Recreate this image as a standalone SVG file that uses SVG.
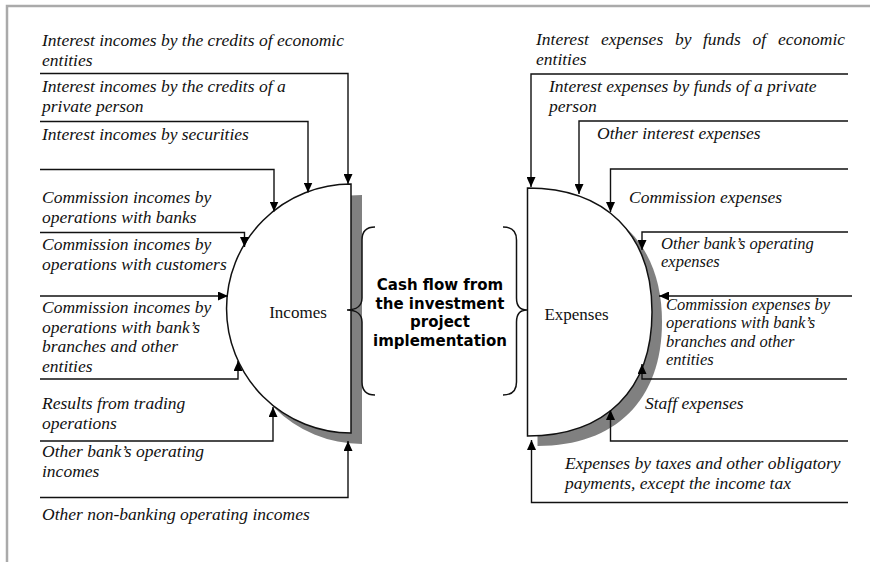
<svg xmlns="http://www.w3.org/2000/svg" width="870" height="562" viewBox="0 0 870 562">
<defs>
<style>
.lbl{font-family:"Liberation Serif","Times New Roman",serif;font-style:italic;font-size:17.5px;fill:#111}
.tight{font-size:16.5px}
.node{font-family:"Liberation Serif","Times New Roman",serif;font-size:17px;fill:#111;text-anchor:middle}
.ctr{font-family:"DejaVu Sans",Verdana,sans-serif;font-weight:bold;font-size:15px;fill:#000;text-anchor:middle}
.con{fill:none;stroke:#111;stroke-width:1.4;marker-end:url(#ah)}
.shape{fill:#fff;stroke:#111;stroke-width:1.5}
.shadow{fill:#808080}
.brace{fill:none;stroke:#111;stroke-width:1.5}
</style>
<marker id="ah" viewBox="0 0 10 9" refX="10" refY="4.5" markerWidth="10" markerHeight="9" orient="auto" markerUnits="userSpaceOnUse">
<path d="M0,0 L10,4.5 L0,9 z" fill="#000"/>
</marker>
</defs>
<rect width="870" height="562" fill="#fff"/>
<path d="M7,562 V6 H870" fill="none" stroke="#aaa" stroke-width="2.5"/>

<g id="incomes">
<path class="shadow" transform="translate(11,11)" d="M351,184 A124.5,124.5 0 0 0 351,433 Z"/>
<path class="shape" d="M351,184 A124.5,124.5 0 0 0 351,433 Z"/>
<text class="node" x="298" y="318">Incomes</text>
</g>

<g id="expenses">
<path class="shadow" transform="translate(10,10)" d="M527.5,188 C605.5,188 652,234 652,312 C652,390 605.5,436 527.5,436 Z"/>
<path class="shape" d="M527.5,188 C605.5,188 652,234 652,312 C652,390 605.5,436 527.5,436 Z"/>
<text class="node" x="576.5" y="320">Expenses</text>
</g>

<g id="cashflow">
<path class="brace" d="M375,227 C366,227 362,231 362,240 V298 C362,306 356,310 347,310 C356,310 362,314 362,322 V382 C362,391 366,395 375,395"/>
<path class="brace" d="M503,227 C512,227 516.5,231 516.5,240 V298 C516.5,306 520,310 527,310 C520,310 516.5,314 516.5,322 V382 C516.5,391 512,395 503,395"/>
<text class="ctr" x="440" y="289.5">Cash flow from</text>
<text class="ctr" x="440" y="308.5">the investment</text>
<text class="ctr" x="440" y="327">project</text>
<text class="ctr" x="440" y="346">implementation</text>
</g>

<g id="income-labels">
<text class="lbl" x="42" y="46">Interest incomes by the credits of economic</text>
<text class="lbl" x="42" y="65.5">entities</text>
<text class="lbl" x="42" y="92">Interest incomes by the credits of a</text>
<text class="lbl" x="42" y="111.5">private person</text>
<text class="lbl" x="42" y="139.5">Interest incomes by securities</text>
<text class="lbl" x="42" y="203">Commission incomes by</text>
<text class="lbl" x="42" y="222.5">operations with banks</text>
<text class="lbl" x="42" y="250">Commission incomes by</text>
<text class="lbl" x="42" y="269.5">operations with customers</text>
<text class="lbl" x="42" y="313">Commission incomes by</text>
<text class="lbl" x="42" y="332.5">operations with bank’s</text>
<text class="lbl" x="42" y="352">branches and other</text>
<text class="lbl" x="42" y="371.5">entities</text>
<text class="lbl" x="42" y="409">Results from trading</text>
<text class="lbl" x="42" y="428.5">operations</text>
<text class="lbl" x="42" y="457">Other bank’s operating</text>
<text class="lbl" x="42" y="476.5">incomes</text>
<text class="lbl" x="42" y="520">Other non-banking operating incomes</text>
</g>

<g id="expense-labels">
<text class="lbl" y="45"><tspan x="536">Interest</tspan><tspan x="601">expenses</tspan><tspan x="675">by</tspan><tspan x="703">funds</tspan><tspan x="752.5">of</tspan><tspan x="778">economic</tspan></text>
<text class="lbl" x="536" y="64.5">entities</text>
<text class="lbl" x="549" y="92">Interest expenses by funds of a private</text>
<text class="lbl" x="549" y="111.5">person</text>
<text class="lbl" x="597" y="139">Other interest expenses</text>
<text class="lbl" x="629" y="203">Commission expenses</text>
<text class="lbl tight" x="661" y="249">Other bank’s operating</text>
<text class="lbl tight" x="661" y="267.3">expenses</text>
<text class="lbl tight" x="666" y="310">Commission expenses by</text>
<text class="lbl tight" x="666" y="328.3">operations with bank’s</text>
<text class="lbl tight" x="666" y="346.6">branches and other</text>
<text class="lbl tight" x="666" y="364.9">entities</text>
<text class="lbl" x="645" y="409">Staff expenses</text>
<text class="lbl" x="565" y="469">Expenses by taxes and other obligatory</text>
<text class="lbl" x="565" y="488.5">payments, except the income tax</text>
</g>

<g id="connectors">
<path class="con" d="M40,73.5 H348 V184"/>
<path class="con" d="M40,121.5 H308 V192.5"/>
<path class="con" d="M40,169.5 H274 V211.5"/>
<path class="con" d="M40,232.5 H244.5 V247"/>
<path class="con" d="M40,296 H228"/>
<path class="con" d="M40,379 H238 V361"/>
<path class="con" d="M40,441 H273 V407"/>
<path class="con" d="M40,497.5 H348 V441"/>
<path class="con" d="M848,74 H531 V187"/>
<path class="con" d="M848,121 H579 V194"/>
<path class="con" d="M848,169 H610.5 V212"/>
<path class="con" d="M848,232 H642 V250"/>
<path class="con" d="M852,296 H659"/>
<path class="con" d="M847,379 H642 V364"/>
<path class="con" d="M848,441 H610.5 V410"/>
<path class="con" d="M848,502.5 H531.5 V440"/>
</g>
</svg>
